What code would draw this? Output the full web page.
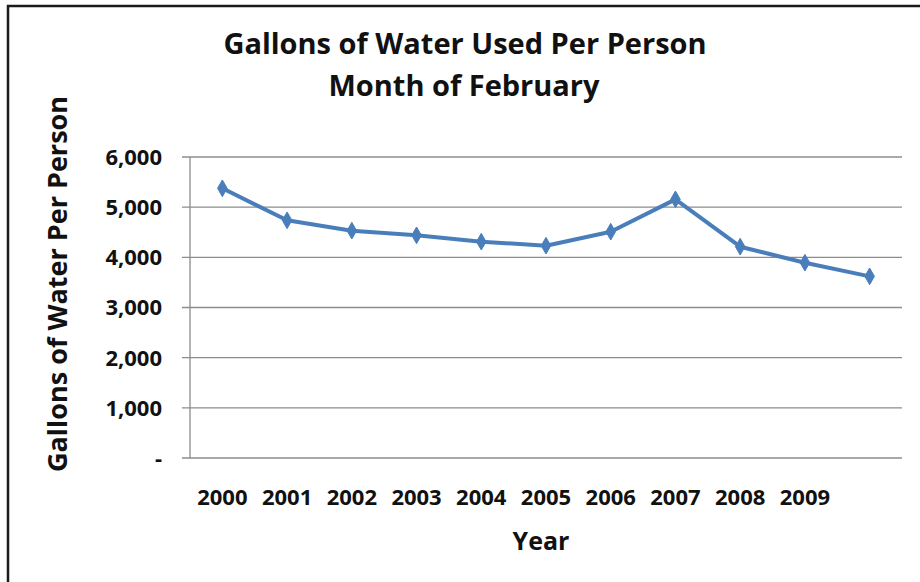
<!DOCTYPE html>
<html>
<head>
<meta charset="utf-8">
<script src="https://cdn.jsdelivr.net/npm/d3@7"></script>
<style>
  body { margin: 0; background: #fff; overflow: hidden; }
  text { font-family: "Open Sans", sans-serif; font-weight: bold; fill: #111; }
</style>
</head>
<body>
<div class="canvas"></div>
<script>
// chart data
const yearLabels = ["2000", "2001", "2002", "2003", "2004", "2005", "2006", "2007", "2008", "2009", ""];
const gallons = [5376, 4738, 4531, 4439, 4312, 4232, 4511, 5156, 4212, 3893, 3621];
const yTicks = [0, 1000, 2000, 3000, 4000, 5000, 6000];

const dims = { width: 920, height: 582 };
const plot = { left: 190, right: 902, top: 157, bottom: 458 };

const svg = d3
    .select(".canvas")
    .append("svg")
    .attr("width", dims.width)
    .attr("height", dims.height)
    .style("display", "block");

svg.append("rect")
    .attr("width", dims.width)
    .attr("height", dims.height)
    .attr("fill", "#fff");

// outer frame, only top and left edges are visible
svg.append("path")
    .attr("d", `M8,${dims.height}V6H${dims.width}`)
    .attr("fill", "none")
    .attr("stroke", "#1b1b1b")
    .attr("stroke-width", 2.5);

const x = d3
    .scaleBand()
    .domain(d3.range(gallons.length))
    .range([plot.left, plot.right]);

const y = d3
    .scaleLinear()
    .domain([0, 6000])
    .range([plot.bottom, plot.top]);

// gridlines
svg.append("g")
    .selectAll("line")
    .data(yTicks)
    .join("line")
    .attr("x1", plot.left - 8)
    .attr("x2", plot.right)
    .attr("y1", (d) => y(d))
    .attr("y2", (d) => y(d))
    .attr("stroke", "#8c8c8c")
    .attr("stroke-width", 1.3);

// y axis line
svg.append("line")
    .attr("x1", plot.left)
    .attr("x2", plot.left)
    .attr("y1", plot.top)
    .attr("y2", plot.bottom)
    .attr("stroke", "#8c8c8c")
    .attr("stroke-width", 1.3);

// y tick labels
const fmt = d3.format(",");
svg.append("g")
    .selectAll("text")
    .data(yTicks)
    .join("text")
    .attr("x", 162)
    .attr("y", (d) => y(d))
    .attr("dy", "0.36em")
    .attr("text-anchor", "end")
    .style("font-size", "22px")
    .text((d) => (d === 0 ? "-" : fmt(d)));

// x tick labels
svg.append("g")
    .selectAll("text")
    .data(yearLabels)
    .join("text")
    .attr("x", (d, i) => x(i) + x.bandwidth() / 2)
    .attr("y", 505)
    .attr("text-anchor", "middle")
    .style("font-size", "22px")
    .text((d) => d);

// the line
const line = d3
    .line()
    .x((d, i) => x(i) + x.bandwidth() / 2)
    .y((d) => y(d));

svg.append("path")
    .datum(gallons)
    .attr("d", line)
    .attr("fill", "none")
    .attr("stroke", "#4a7ebb")
    .attr("stroke-width", 4)
    .attr("stroke-linejoin", "round");

const diamond = d3.symbol().type(d3.symbolDiamond).size(80);
svg.append("g")
    .selectAll("path")
    .data(gallons)
    .join("path")
    .attr("transform", (d, i) => `translate(${x(i) + x.bandwidth() / 2},${y(d)})`)
    .attr("d", diamond)
    .attr("fill", "#4a7ebb")
    .attr("stroke", "#4a7ebb")
    .attr("stroke-width", 1);

// titles
svg.append("text")
    .attr("x", 465)
    .attr("y", 54)
    .attr("text-anchor", "middle")
    .style("font-size", "29px")
    .text("Gallons of Water Used Per Person");

svg.append("text")
    .attr("x", 464)
    .attr("y", 96)
    .attr("text-anchor", "middle")
    .style("font-size", "29px")
    .text("Month of February");

svg.append("text")
    .attr("transform", "translate(67,284) rotate(-90)")
    .attr("text-anchor", "middle")
    .style("font-size", "27px")
    .text("Gallons of Water Per Person");

svg.append("text")
    .attr("x", 541)
    .attr("y", 550)
    .attr("text-anchor", "middle")
    .style("font-size", "25px")
    .text("Year");
</script>
</body>
</html>
